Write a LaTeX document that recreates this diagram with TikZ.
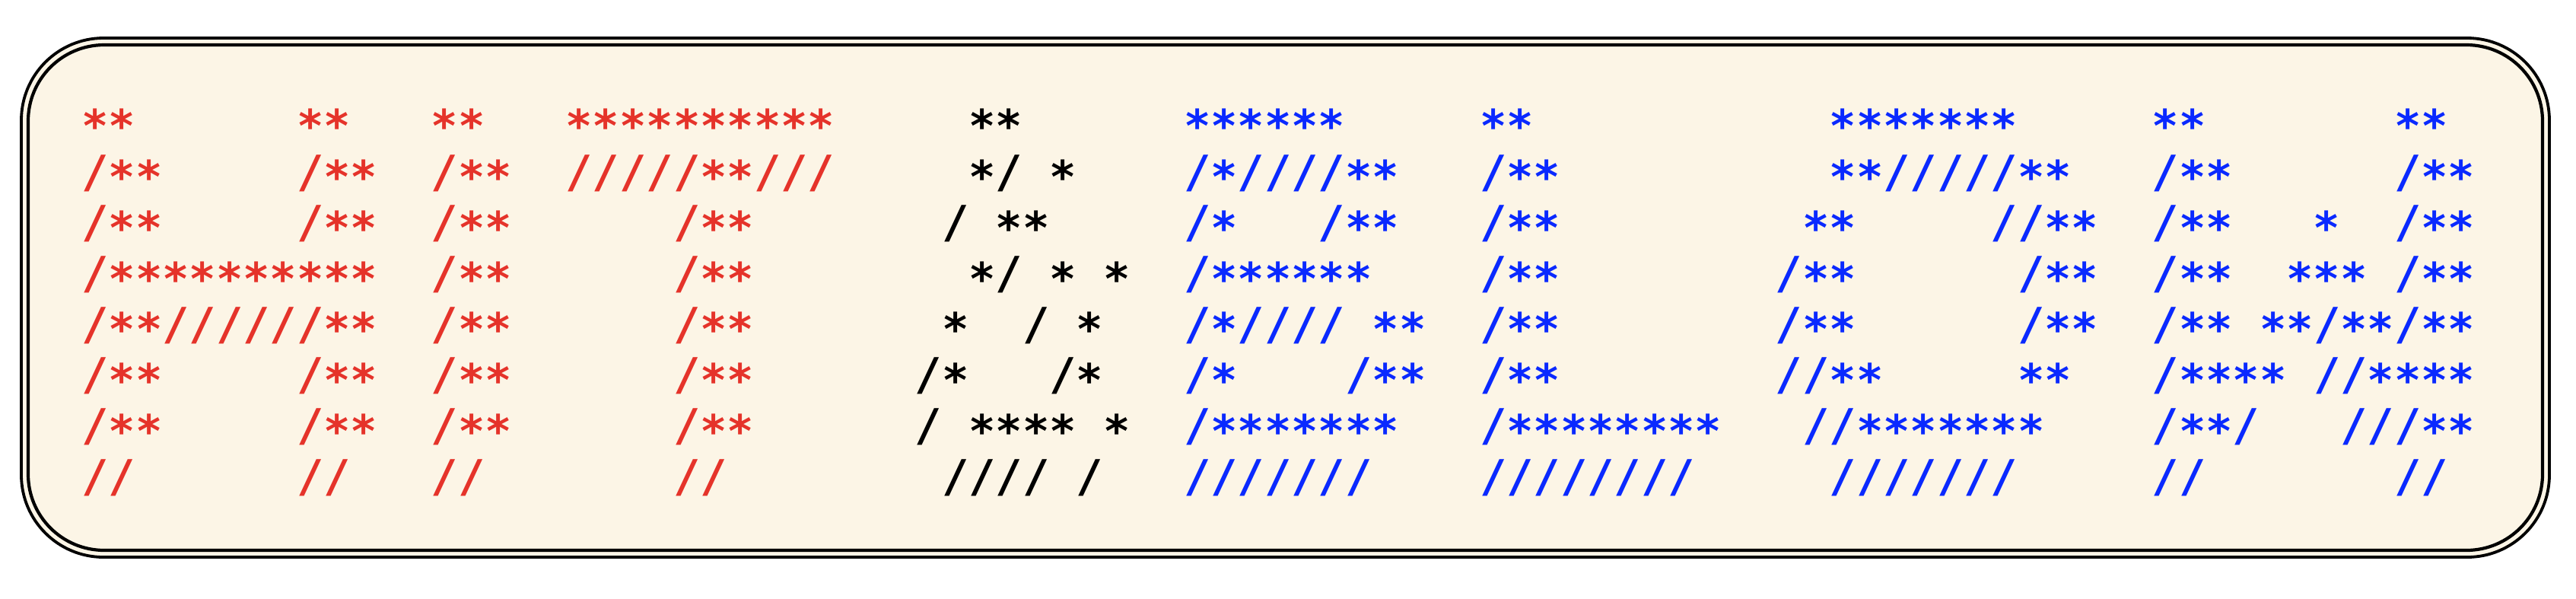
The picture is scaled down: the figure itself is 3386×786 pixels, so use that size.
\documentclass[tikz,border=0pt]{standalone}
\usepackage{fontspec}
\newfontfamily\asciifont{DejaVu Sans Mono}
\definecolor{asciired}{HTML}{E5332A}
\definecolor{asciiblue}{HTML}{0A29FF}
\definecolor{asciiblack}{HTML}{000000}
\definecolor{panelcream}{HTML}{FCF5E6}
% '*' is drawn slightly lowered, '.' stands for a blank cell
\newcommand\glyphchar[1]{\if*#1\raisebox{-0.13em}{*}\else\if.#1\phantom{/}\else#1\fi\fi}
\newcommand\glyphloop[1]{\ifx\relax#1\else\glyphchar{#1}\expandafter\glyphloop\fi}
\newcommand\glyphrow[1]{\glyphloop#1\relax}
\tikzset{
  asciirow/.style={anchor=base west, inner sep=0pt, outer sep=0pt,
    font=\asciifont\bfseries\fontsize{14.68pt}{16pt}\selectfont},
  redrow/.style={asciirow, text=asciired},
  blackrow/.style={asciirow, text=asciiblack},
  bluerow/.style={asciirow, text=asciiblue},
  outerframe/.style={draw=black, line width=0.95pt, fill=panelcream, rounded corners=27pt},
  innerframe/.style={draw=black, line width=1.05pt, rounded corners=25pt}
}
\begin{document}
\begin{tikzpicture}[x=0.25pt, y=-0.25pt]
\useasboundingbox (0,0) rectangle (3386,786);
\draw[outerframe] (28,50) rectangle (3351,732);
\draw[innerframe] (37,59) rectangle (3342,723);
% red: H I T
\node[redrow] (r0red) at (107.3,179.3) {\glyphrow{**......**...**...**********}};
\node[redrow] (r1red) at (107.3,246.0) {\glyphrow{/**...../**../**../////**///}};
\node[redrow] (r2red) at (107.3,312.7) {\glyphrow{/**...../**../**....../**}};
\node[redrow] (r3red) at (107.3,379.4) {\glyphrow{/**********../**....../**}};
\node[redrow] (r4red) at (107.3,446.1) {\glyphrow{/**//////**../**....../**}};
\node[redrow] (r5red) at (107.3,512.8) {\glyphrow{/**...../**../**....../**}};
\node[redrow] (r6red) at (107.3,579.5) {\glyphrow{/**...../**../**....../**}};
\node[redrow] (r7red) at (107.3,646.2) {\glyphrow{//......//...//.......//}};
% black: &
\node[blackrow] (r0black) at (1202.8,179.3) {\glyphrow{..**}};
\node[blackrow] (r1black) at (1202.8,246.0) {\glyphrow{..*/.*}};
\node[blackrow] (r2black) at (1202.8,312.7) {\glyphrow{./.**}};
\node[blackrow] (r3black) at (1202.8,379.4) {\glyphrow{..*/.*.*}};
\node[blackrow] (r4black) at (1202.8,446.1) {\glyphrow{.*../.*}};
\node[blackrow] (r5black) at (1202.8,512.8) {\glyphrow{/*.../*}};
\node[blackrow] (r6black) at (1202.8,579.5) {\glyphrow{/.****.*}};
\node[blackrow] (r7black) at (1202.8,646.2) {\glyphrow{.////./}};
% blue: B L O W
\node[bluerow] (r0blue) at (1556.2,179.3) {\glyphrow{******.....**...........*******.....**.......**}};
\node[bluerow] (r1blue) at (1556.2,246.0) {\glyphrow{/*////**.../**..........**/////**.../**....../**}};
\node[bluerow] (r2blue) at (1556.2,312.7) {\glyphrow{/*.../**.../**.........**.....//**../**...*../**}};
\node[bluerow] (r3blue) at (1556.2,379.4) {\glyphrow{/******..../**......../**....../**../**..***./**}};
\node[bluerow] (r4blue) at (1556.2,446.1) {\glyphrow{/*////.**../**......../**....../**../**.**/**/**}};
\node[bluerow] (r5blue) at (1556.2,512.8) {\glyphrow{/*..../**../**........//**.....**.../****.//****}};
\node[bluerow] (r6blue) at (1556.2,579.5) {\glyphrow{/*******.../********...//*******..../**/...///**}};
\node[bluerow] (r7blue) at (1556.2,646.2) {\glyphrow{///////....////////.....///////.....//.......//}};
\end{tikzpicture}
\end{document}
